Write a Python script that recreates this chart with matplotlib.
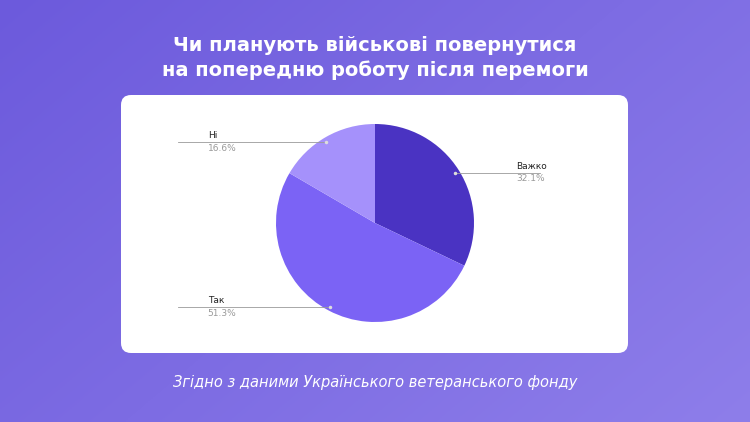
import numpy as np
import matplotlib.pyplot as plt
from matplotlib.patches import FancyBboxPatch

labels = ["Важко", "Так", "Ні"]
values = [32.1, 51.3, 16.6]
colors = ["#4a33c2", "#7b63f5", "#a591fb"]
title = "Чи планують військові повернутися\nна попередню роботу після перемоги"
source = "Згідно з даними Українського ветеранського фонду"

W, H = 750, 422
fig = plt.figure(figsize=(W / 100, H / 100), dpi=100)

# gradient background
bg = fig.add_axes([0, 0, 1, 1])
yy, xx = np.mgrid[0:1:200j, 0:1:300j]
t = 0.6 * xx + 0.4 * yy
c0 = np.array([0x6c, 0x5a, 0xdc]) / 255
c1 = np.array([0x8e, 0x7e, 0xea]) / 255
img = c0 + (c1 - c0) * t[..., None]
bg.imshow(img, extent=[0, W, 0, H], aspect="auto", origin="upper")
bg.set_xlim(0, W)
bg.set_ylim(0, H)
bg.axis("off")
bg.add_patch(FancyBboxPatch((121 + 10, H - 353 + 10), 507 - 20, 258 - 20,
                            boxstyle="round,pad=10", fc="white", ec="none"))
bg.text(W / 2, H - 58, title, ha="center", va="center", color="white",
        fontsize=14, fontweight="bold", family="DejaVu Sans", linespacing=1.3)
bg.text(W / 2, H - 382, source, ha="center", va="center", color="white",
        fontsize=10.5, style="italic", family="DejaVu Sans")

# pie
r = 99
ax = fig.add_axes([(375 - r) / W, (H - 223 - r) / H, 2 * r / W, 2 * r / H])
ax.pie(values, colors=colors, startangle=90, counterclock=False,
       wedgeprops=dict(linewidth=0))
ax.set_xlim(-1, 1)
ax.set_ylim(-1, 1)
ax.set_clip_on(False)

# label positions: (text x, line far x, line y, anchor x)
spots = [(1.43, 1.67, 0.51, 0.81), (-1.69, -1.99, -0.85, -0.45), (-1.69, -1.99, 0.82, -0.5)]
for lab, v, (tx, lx, ly, ax_x) in zip(labels, values, spots):
    ax.plot([ax_x, lx], [ly, ly], color="#9a9a9a", lw=0.6, clip_on=False)
    ax.plot([ax_x], [ly], "o", ms=1.5, color="#dddddd", clip_on=False)
    ax.text(tx, ly + 0.02, lab, fontsize=6.5, color="#222222", va="bottom")
    ax.text(tx, ly - 0.02, f"{v}%", fontsize=6.5, color="#999999", va="top")

fig.savefig("out.png", dpi=100)
